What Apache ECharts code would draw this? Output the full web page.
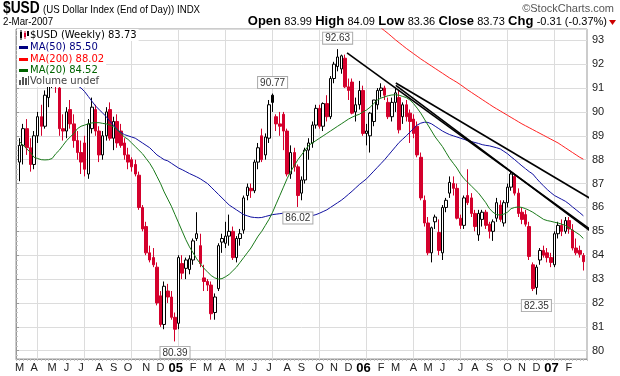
<!DOCTYPE html>
<html><head><meta charset="utf-8">
<script src="https://cdn.jsdelivr.net/npm/echarts@6/dist/echarts.min.js"></script>
<style>html,body{margin:0;padding:0;background:#fff}#c{width:620px;height:376px}</style>
</head><body><div id="c"></div>
<script>
// ---- data (weekly, end of week) ----
const weekEnding = [
'2004-03-05','2004-03-12','2004-03-19','2004-03-26','2004-04-02','2004-04-09','2004-04-16','2004-04-23','2004-04-30','2004-05-07',
'2004-05-14','2004-05-21','2004-05-28','2004-06-04','2004-06-11','2004-06-18','2004-06-25','2004-07-02','2004-07-09','2004-07-16',
'2004-07-23','2004-07-30','2004-08-06','2004-08-13','2004-08-20','2004-08-27','2004-09-03','2004-09-10','2004-09-17','2004-09-24',
'2004-10-01','2004-10-08','2004-10-15','2004-10-22','2004-10-29','2004-11-05','2004-11-12','2004-11-19','2004-11-26','2004-12-03',
'2004-12-10','2004-12-17','2004-12-24','2004-12-31','2005-01-07','2005-01-14','2005-01-21','2005-01-28','2005-02-04','2005-02-11',
'2005-02-18','2005-02-25','2005-03-04','2005-03-11','2005-03-18','2005-03-25','2005-04-01','2005-04-08','2005-04-15','2005-04-22',
'2005-04-29','2005-05-06','2005-05-13','2005-05-20','2005-05-27','2005-06-03','2005-06-10','2005-06-17','2005-06-24','2005-07-01',
'2005-07-08','2005-07-15','2005-07-22','2005-07-29','2005-08-05','2005-08-12','2005-08-19','2005-08-26','2005-09-02','2005-09-09',
'2005-09-16','2005-09-23','2005-09-30','2005-10-07','2005-10-14','2005-10-21','2005-10-28','2005-11-04','2005-11-11','2005-11-18',
'2005-11-25','2005-12-02','2005-12-09','2005-12-16','2005-12-23','2005-12-30','2006-01-06','2006-01-13','2006-01-20','2006-01-27',
'2006-02-03','2006-02-10','2006-02-17','2006-02-24','2006-03-03','2006-03-10','2006-03-17','2006-03-24','2006-03-31','2006-04-07',
'2006-04-14','2006-04-21','2006-04-28','2006-05-05','2006-05-12','2006-05-19','2006-05-26','2006-06-02','2006-06-09','2006-06-16',
'2006-06-23','2006-06-30','2006-07-07','2006-07-14','2006-07-21','2006-07-28','2006-08-04','2006-08-11','2006-08-18','2006-08-25',
'2006-09-01','2006-09-08','2006-09-15','2006-09-22','2006-09-29','2006-10-06','2006-10-13','2006-10-20','2006-10-27','2006-11-03',
'2006-11-10','2006-11-17','2006-11-24','2006-12-01','2006-12-08','2006-12-15','2006-12-22','2006-12-29','2007-01-05','2007-01-12',
'2007-01-19','2007-01-26','2007-02-02','2007-02-09','2007-02-16','2007-02-23','2007-03-02'];

const opens = [
87.9,88.6,89.3,88.5,87.8,89.0,89.8,89.4,90.6,91.5,
91.9,91.0,89.3,89.2,90.1,89.5,88.8,88.3,88.7,87.4,
89.3,90.1,89.2,88.2,89.0,90.1,88.9,89.6,89.2,88.7,
88.2,88.0,87.8,87.35,86.0,85.2,84.1,83.9,83.5,82.3,
81.1,82.5,82.25,81.4,81.15,83.65,83.45,83.4,83.8,84.7,
84.4,83.05,82.9,82.75,81.6,82.6,84.55,84.5,84.8,85.0,
83.9,84.7,85.05,86.5,86.8,86.7,87.9,89.0,88.2,88.9,
90.7,89.8,89.5,89.9,89.2,87.4,88.3,87.7,86.6,87.15,
88.4,88.7,89.45,90.15,89.4,90.35,89.8,91.4,91.9,91.8,
92.25,91.05,91.25,90.0,90.3,90.9,89.1,89.0,89.6,90.3,
90.9,91.0,90.4,89.8,90.4,90.6,89.8,90.3,89.95,89.7,
89.4,88.1,86.3,85.35,84.1,85.4,84.95,84.1,86.0,86.6,
87.0,86.8,85.55,85.25,86.5,86.4,85.75,84.85,85.5,85.8,
85.3,85.0,85.55,86.1,85.35,86.2,86.85,87.3,86.6,85.8,
85.7,85.2,83.6,82.65,83.8,84.2,84.1,83.9,83.6,84.9,
85.25,85.0,85.45,85.05,84.3,84.2,83.99];
const highs = [
88.9,89.5,89.7,88.9,89.2,90.0,90.3,90.9,91.8,92.2,
92.3,91.3,89.9,90.2,90.5,89.9,89.2,88.8,89.0,89.7,
90.6,90.3,89.4,89.2,90.2,90.4,89.8,89.9,89.5,88.9,
88.5,88.1,88.0,87.5,86.1,85.4,84.4,84.3,83.7,82.5,
82.9,82.8,82.5,81.6,84.0,84.0,83.9,84.0,84.7,85.8,
84.9,83.6,83.0,82.9,82.4,84.5,84.9,85.4,85.7,85.2,
84.8,85.1,86.5,87.0,87.0,88.0,88.7,89.3,89.1,90.5,
90.77,89.9,90.0,90.0,89.3,88.6,88.5,87.8,87.3,88.5,
88.9,89.6,90.3,90.3,90.4,90.7,91.5,92.1,92.63,92.4,
92.4,91.4,91.4,90.6,91.3,91.1,89.5,90.0,90.5,91.0,
91.2,91.1,90.6,90.6,91.0,90.9,90.4,90.5,90.1,89.9,
89.6,88.3,86.5,85.6,85.2,85.7,85.5,86.1,86.4,87.3,
87.3,87.0,85.7,86.5,87.6,86.6,85.9,85.9,85.9,85.9,
85.4,85.5,86.4,86.3,86.3,87.0,87.5,87.4,86.8,86.0,
85.9,85.4,83.7,83.6,84.3,84.4,84.3,84.1,85.0,85.4,
85.5,85.6,85.6,85.3,84.7,84.4,84.09];
const lows = [
87.1,87.8,88.2,87.5,87.6,88.7,89.0,89.3,90.2,91.0,
90.8,89.0,88.8,88.9,89.3,88.5,88.0,87.4,87.3,87.2,
89.1,89.0,87.9,88.0,88.8,88.8,88.4,88.5,88.5,88.0,
87.6,87.5,87.3,85.9,85.0,84.0,83.7,83.5,81.9,81.0,
80.9,82.0,81.3,80.39,80.9,83.0,83.0,83.2,83.6,84.6,
83.5,82.5,82.5,81.3,81.3,82.5,84.1,84.3,84.4,83.8,
83.7,84.4,84.9,86.3,86.4,86.6,87.6,87.9,88.0,88.7,
90.0,89.2,89.0,88.4,87.3,87.2,87.5,86.02,86.3,87.0,
88.0,88.5,89.3,89.3,89.2,89.6,89.7,91.2,91.7,91.6,
91.0,90.5,89.9,89.6,90.1,89.0,88.6,88.3,89.4,90.1,
90.6,90.5,89.7,89.6,90.0,89.1,89.5,89.6,88.7,88.9,
88.1,86.3,85.2,84.0,83.7,85.1,84.0,83.8,85.8,86.4,
86.5,85.5,85.1,85.1,86.1,85.6,85.0,84.6,85.2,85.1,
84.7,84.6,85.4,85.4,85.2,86.0,86.7,86.5,85.6,85.3,
85.2,83.8,82.5,82.35,83.6,83.9,83.7,83.5,83.5,84.7,
84.8,84.9,84.9,84.2,84.0,83.9,83.36];
const closes = [
88.6,89.3,88.5,87.8,89.0,89.8,89.4,90.7,91.5,91.9,
91.1,89.3,89.2,90.0,89.5,88.8,88.3,87.9,87.6,89.5,
90.2,89.2,88.2,89.0,90.0,88.9,89.6,88.7,88.6,88.2,
87.9,87.7,87.4,86.0,85.1,84.1,83.8,83.6,82.0,81.1,
82.7,82.25,81.4,80.9,83.9,83.25,83.8,83.85,84.6,84.9,
83.65,82.9,82.75,81.55,82.25,84.4,84.7,84.8,85.0,83.9,
84.7,84.9,86.4,86.85,86.7,87.9,88.5,88.0,88.95,90.3,
90.4,89.5,89.4,89.2,87.4,88.3,87.7,86.5,87.15,88.4,
88.7,89.45,90.15,89.4,90.35,89.8,91.4,92.0,92.3,92.35,
91.05,90.9,89.95,90.3,90.9,89.1,89.2,89.95,90.5,90.9,
91.0,90.7,89.8,90.4,90.8,89.25,90.3,89.8,89.6,89.1,
88.2,86.4,85.35,84.1,85.15,85.6,84.2,86.0,86.3,87.05,
86.8,85.55,85.25,86.4,86.2,85.75,85.2,85.75,85.8,85.25,
85.0,85.4,86.2,85.5,86.2,86.85,87.4,86.6,85.75,85.5,
85.3,83.95,82.6,83.5,84.2,84.0,83.9,83.7,84.9,85.25,
85.0,85.45,85.1,84.3,84.1,84.04,83.73];

const ma20 = [
88.75,88.6,88.45,88.3,88.1,88.05,88.0,87.99,88.0,88.05,
88.25,88.4,88.6,88.8,88.95,89.1,89.3,89.4,89.45,89.5,
89.54,89.55,89.55,89.52,89.5,89.45,89.38,89.25,89.1,88.95,
88.85,88.7,88.55,88.4,88.25,88.05,87.85,87.6,87.3,87.0,
86.65,86.35,86.05,85.7,85.35,85.0,84.65,84.35,84.1,83.85,
83.65,83.45,83.3,83.15,83.05,83.0,83.02,83.1,83.2,83.35,
83.5,83.7,83.9,84.1,84.3,84.55,84.8,85.0,85.25,85.5,
85.8,86.15,86.5,86.85,87.2,87.5,87.75,88.0,88.2,88.4,
88.6,88.7,88.8,88.9,89.0,89.1,89.2,89.3,89.4,89.5,
89.6,89.7,89.78,89.85,89.9,90.0,90.08,90.2,90.35,90.5,
90.58,90.63,90.68,90.71,90.72,90.7,90.65,90.6,90.5,90.35,
90.16,89.95,89.7,89.45,89.2,88.95,88.75,88.55,88.3,88.05,
87.85,87.65,87.4,87.2,87.05,86.9,86.75,86.6,86.4,86.2,
85.95,85.8,85.7,85.68,85.72,85.8,85.95,86.0,86.02,86.0,
85.95,85.88,85.8,85.7,85.6,85.5,85.45,85.42,85.38,85.35,
85.3,85.25,85.15,85.05,84.95,84.85,84.7];
const ma50 = [
92.6,92.55,92.5,92.45,92.4,92.3,92.2,92.1,92.0,91.9,
91.8,91.7,91.6,91.45,91.35,91.25,91.1,91.0,90.85,90.65,
90.45,90.25,90.1,89.95,89.8,89.6,89.45,89.25,89.15,89.05,
89.0,88.95,88.9,88.8,88.7,88.6,88.5,88.35,88.2,88.1,
88.0,87.95,87.85,87.75,87.65,87.58,87.5,87.42,87.35,87.28,
87.2,87.1,87.0,86.85,86.7,86.55,86.4,86.25,86.1,86.0,
85.9,85.8,85.7,85.65,85.6,85.58,85.57,85.58,85.62,85.66,
85.7,85.72,85.74,85.76,85.77,85.76,85.72,85.66,85.6,85.6,
85.62,85.66,85.7,85.76,85.83,85.9,86.0,86.1,86.2,86.3,
86.42,86.55,86.68,86.82,86.96,87.08,87.2,87.36,87.52,87.68,
87.84,88.0,88.18,88.36,88.54,88.72,88.86,89.0,89.15,89.3,
89.45,89.53,89.57,89.56,89.5,89.4,89.3,89.2,89.12,89.05,
89.0,88.95,88.9,88.85,88.8,88.76,88.72,88.68,88.63,88.6,
88.58,88.54,88.5,88.45,88.35,88.25,88.12,88.0,87.87,87.74,
87.62,87.5,87.4,87.22,87.05,86.9,86.75,86.62,86.5,86.42,
86.34,86.26,86.15,86.02,85.9,85.78,85.65];
const ma200Start = 96;
const ma200 = [
94.0,93.88,93.76,93.64,93.52,93.4,93.28,93.15,93.02,92.9,
92.78,92.66,92.55,92.44,92.33,92.22,92.12,92.02,91.92,91.82,
91.72,91.62,91.52,91.42,91.33,91.24,91.14,91.03,90.92,90.82,
90.72,90.62,90.52,90.42,90.32,90.22,90.13,90.04,89.95,89.86,
89.77,89.68,89.59,89.5,89.42,89.34,89.26,89.18,89.1,89.02,
88.94,88.86,88.78,88.7,88.6,88.5,88.4,88.3,88.2,88.1,88.02];

// month tick labels (index of first week of month)
const monthTickIdx  = [0,4,9,13,17,22,26,30,35,39, 44,48,52,56,61,65,69,74,78,83,87,91, 96,100,104,109,113,117,122,126,130,135,139,143, 148,152];
const monthTickText = ['M','A','M','J','J','A','S','O','N','D', '05','F','M','A','M','J','J','A','S','O','N','D', '06','F','M','A','M','J','J','A','S','O','N','D', '07','F'];
const quarterIdx = [5,18,31,44,57,70,83,96,109,122,135,148];

// annotated highs / lows
const highNoteIdx = [70, 88];
const highNoteVal = [90.77, 92.63];
const lowNoteIdx = [43, 77, 143];
const lowNoteVal = [80.39, 86.02, 82.35];

// hand-drawn trend lines: [startWeek, startPrice, endWeek, endPrice]
const trendLines = [
  [90.6, 92.47, 166.1, 84.18],
  [104.1, 91.21, 166.1, 85.64],
  [104.1, 91.11, 166.1, 84.09]
];

// ---- chart ----
const RED = '#d4002c', BLK = '#000000';
const cats = [''].concat(weekEnding, ['']);
const candles = opens.map((o, i) => {
  const c = closes[i];
  const prev = i > 0 ? closes[i - 1] : o;
  const col = c < prev ? RED : BLK;
  const fill = c < o ? col : '#ffffff';
  return { value: [i + 1, o, c, lows[i], highs[i]],
    itemStyle: { color: fill, color0: fill, borderColor: col, borderColor0: col, borderColorDoji: col } };
});
const lbl = {};
monthTickIdx.forEach((k, j) => { lbl[k + 1] = monthTickText[j]; });
const qset = new Set(quarterIdx.map(k => k + 1));
const line = (arr, start) => arr.map((v, i) => [i + start + 1, v]);

const SANS = '"Liberation Sans",Arial,sans-serif';
const LEG = '"DejaVu Sans",Verdana,sans-serif';

const noteLabel = (pos) => ({ show: true, position: pos, distance: 5, color: '#333', fontSize: 10, fontFamily: SANS,
  backgroundColor: '#fff', borderColor: '#aaa', borderWidth: 1, padding: [1, 2, 0, 2] });
const notes = highNoteIdx.map((k, j) => ({ coord: [k + 1, highNoteVal[j]], label: Object.assign(noteLabel('top'), { formatter: highNoteVal[j].toFixed(2) }) }))
  .concat(lowNoteIdx.map((k, j) => ({ coord: [k + 1, lowNoteVal[j]], label: Object.assign(noteLabel('bottom'), { formatter: lowNoteVal[j].toFixed(2) }) })));

const chart = echarts.init(document.getElementById('c'), null, { renderer: 'canvas' });
const isInt = v => Math.abs(v - Math.round(v)) < 1e-6;

const legendRows = [
  { y: 35, text: '$USD (Weekly) ' + closes[closes.length - 1].toFixed(2), color: '#000' },
  { y: 47, text: 'MA(50) ' + '85.50', color: '#000080' },
  { y: 59, text: 'MA(200) ' + '88.02', color: '#ff0000' },
  { y: 70, text: 'MA(20) ' + '84.52', color: '#006400' },
  { y: 81, text: 'Volume undef', color: '#444' }
];
const graphics = [];
legendRows.forEach(r => {
  graphics.push({ type: 'text', x: 17, y: r.y, z: 100,
    style: { text: r.text, fill: r.color, font: '10px ' + LEG, verticalAlign: 'middle',
      backgroundColor: '#fff', padding: [1, 2, 1, 13] } });
});
// legend icons
graphics.push(
  { type: 'rect', z: 101, shape: { x: 20, y: 32, width: 2, height: 6 }, style: { fill: '#000' } },
  { type: 'line', z: 101, shape: { x1: 21, y1: 30, x2: 21, y2: 40 }, style: { stroke: '#000', lineWidth: 1 } },
  { type: 'rect', z: 101, shape: { x: 24, y: 33, width: 2, height: 4 }, style: { fill: RED } },
  { type: 'line', z: 101, shape: { x1: 25, y1: 31, x2: 25, y2: 39 }, style: { stroke: RED, lineWidth: 1 } },
  { type: 'rect', z: 101, shape: { x: 27, y: 31, width: 2, height: 5 }, style: { fill: '#000' } },
  { type: 'rect', z: 101, shape: { x: 19, y: 46, width: 9, height: 3 }, style: { fill: '#000080' } },
  { type: 'rect', z: 101, shape: { x: 19, y: 58, width: 9, height: 3 }, style: { fill: '#ff0000' } },
  { type: 'rect', z: 101, shape: { x: 19, y: 69, width: 9, height: 3 }, style: { fill: '#006400' } },
  { type: 'rect', z: 101, shape: { x: 19, y: 80, width: 2, height: 5 }, style: { fill: '#555' } },
  { type: 'rect', z: 101, shape: { x: 22, y: 77, width: 2, height: 8 }, style: { fill: '#555' } },
  { type: 'rect', z: 101, shape: { x: 25, y: 78, width: 2, height: 7 }, style: { fill: '#555' } },
  { type: 'rect', z: 101, shape: { x: 28, y: 76, width: 1, height: 9 }, style: { fill: '#555' } }
);
// header
graphics.push(
  { type: 'text', x: 3, y: 1, scaleX: 0.86, style: { text: '$USD', font: 'bold 16px ' + SANS, fill: '#000' } },
  { type: 'text', x: 43, y: 4, scaleX: 0.88, style: { text: '(US Dollar Index (End of Day)) INDX', font: '11px ' + SANS, fill: '#000' } },
  { type: 'text', x: 614, y: 3, style: { text: '\u00A9StockCharts.com', font: '11px ' + SANS, fill: '#555', align: 'right' } },
  { type: 'text', x: 3, y: 16, scaleX: 0.88, style: { text: '2-Mar-2007', font: '11px ' + SANS, fill: '#000' } },
  { type: 'text', x: 607, y: 15, style: { align: 'right',
      text: '{b|Open} {n|83.99} {b|High} {n|84.09} {b|Low} {n|83.36} {b|Close} {n|83.73} {b|Chg} {n|-0.31 (-0.37%)}',
      rich: { b: { font: 'bold 13px ' + SANS, fill: '#000' }, n: { font: '11px ' + SANS, fill: '#000' } } } },
  { type: 'polygon', shape: { points: [[609, 20], [616, 20], [612.5, 25]] }, style: { fill: '#cc0000' } }
);

chart.setOption({
  animation: false,
  backgroundColor: '#fff',
  graphic: graphics,
  grid: { left: 16, right: 33, top: 29, bottom: 17, show: true, borderColor: '#999', borderWidth: 1 },
  xAxis: [{
    type: 'category', data: cats, boundaryGap: false,
    axisLine: { show: true, lineStyle: { color: '#999' } },
    axisTick: { show: true, interval: 0, length: 2, lineStyle: { color: '#c4c4c4' } },
    axisLabel: { interval: (idx) => lbl[idx] !== undefined, margin: 3, fontSize: 11, color: '#222', fontFamily: SANS,
      formatter: (v, idx) => { const t = lbl[idx] || ''; return /\d/.test(t) ? '{y|' + t + '}' : t; },
      rich: { y: { fontWeight: 'bold', fontSize: 13, fontFamily: SANS, color: '#000', padding: [0, 6, 0, 0] } } },
    splitLine: { show: true, interval: (idx) => qset.has(idx), lineStyle: { color: '#dcdcdc' } }
  }, { type: 'value', min: 0, max: 158, show: false }],
  yAxis: {
    type: 'value', position: 'right', min: 79.654, max: 93.473, splitNumber: 14,
    axisLine: { show: true, lineStyle: { color: '#999' } },
    axisTick: { show: true, length: 3, lineStyle: { color: '#999' } },
    minorTick: { show: true, splitNumber: 5, length: 2, lineStyle: { color: '#c4c4c4' } },
    axisLabel: { margin: 5, fontSize: 11, color: '#222', fontFamily: SANS, formatter: v => isInt(v) ? String(Math.round(v)) : '' },
    splitLine: { lineStyle: { color: '#dcdcdc' } }
  },
  series: [
    { type: 'candlestick', data: candles, encode: { x: 0, y: [1, 2, 3, 4] }, barWidth: 3,
      itemStyle: { borderWidth: 1 },
      markPoint: { symbol: 'rect', symbolSize: 1, itemStyle: { color: 'rgba(0,0,0,0)' }, data: notes, silent: true } },
    { type: 'line', data: line(ma50, 0), symbol: 'none', lineStyle: { color: '#1010a0', width: 1 }, z: 3 },
    { type: 'line', data: line(ma200, ma200Start), symbol: 'none', lineStyle: { color: '#ff2222', width: 1 }, z: 3 },
    { type: 'line', data: line(ma20, 0), symbol: 'none', lineStyle: { color: '#1a7a1a', width: 1 }, z: 3 }
  ].concat(trendLines.map(t => ({
    type: 'line', xAxisIndex: 1, clip: false, symbol: 'none', z: 4,
    data: [[t[0] + 1, t[1]], [t[2] + 1, t[3]]], lineStyle: { color: '#000', width: 1.6 }
  })))
});
</script></body></html>
